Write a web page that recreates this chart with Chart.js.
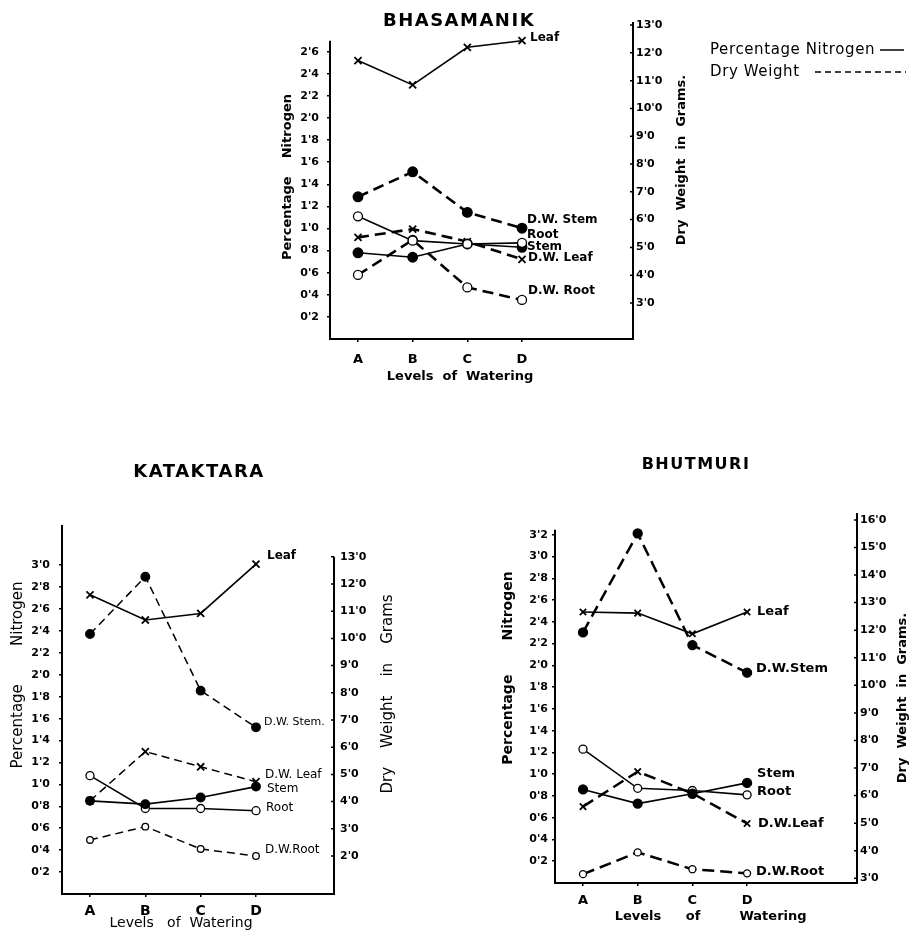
<!DOCTYPE html>
<html><head><meta charset="utf-8">
<script src="https://cdn.jsdelivr.net/npm/chart.js@4.4.0/dist/chart.umd.min.js"></script>
<style>
html,body{margin:0;padding:0;background:#fff;}
#wrap{position:relative;width:911px;height:935px;overflow:hidden;background:#fff;}
canvas{position:absolute;left:0;top:0;}
</style></head><body>
<div id="wrap">
<canvas id="c1" width="911" height="935"></canvas>
<canvas id="c2" width="911" height="935"></canvas>
<canvas id="c3" width="911" height="935"></canvas>
</div>
<script>
// ---------- DATA ----------
const categories = ['A', 'B', 'C', 'D'];

// BHASAMANIK
const bhasLeaf   = [2.52, 2.30, 2.64, 2.70];
const bhasRoot   = [1.11, 0.89, 0.86, 0.87];
const bhasStem   = [0.78, 0.74, 0.86, 0.83];
const bhasDWStem = [6.82, 7.72, 6.26, 5.69];
const bhasDWLeaf = [5.36, 5.66, 5.21, 4.57];
const bhasDWRoot = [4.01, 5.27, 3.56, 3.11];
const bhasLeftTicks  = [0.2, 0.4, 0.6, 0.8, 1.0, 1.2, 1.4, 1.6, 1.8, 2.0, 2.2, 2.4, 2.6];
const bhasRightTicks = [3, 4, 5, 6, 7, 8, 9, 10, 11, 12, 13];

// KATAKTARA
const kataLeaf   = [2.73, 2.50, 2.56, 3.01];
const kataStem   = [0.85, 0.82, 0.88, 0.98];
const kataRoot   = [1.08, 0.78, 0.78, 0.76];
const kataDWStem = [10.16, 12.27, 8.08, 6.73];
const kataDWLeaf = [4.03, 5.84, 5.28, 4.73];
const kataDWRoot = [2.59, 3.08, 2.26, 2.00];
const kataLeftTicks  = [0.2, 0.4, 0.6, 0.8, 1.0, 1.2, 1.4, 1.6, 1.8, 2.0, 2.2, 2.4, 2.6, 2.8, 3.0];
const kataRightTicks = [2, 3, 4, 5, 6, 7, 8, 9, 10, 11, 12, 13];

// BHUTMURI
const bhutLeaf   = [2.49, 2.48, 2.29, 2.49];
const bhutStem   = [0.86, 0.73, 0.82, 0.92];
const bhutRoot   = [1.23, 0.87, 0.85, 0.81];
const bhutDWStem = [11.92, 15.51, 11.46, 10.46];
const bhutDWLeaf = [5.60, 6.87, 6.08, 4.99];
const bhutDWRoot = [3.15, 3.94, 3.33, 3.18];
const bhutLeftTicks  = [0.2, 0.4, 0.6, 0.8, 1.0, 1.2, 1.4, 1.6, 1.8, 2.0, 2.2, 2.4, 2.6, 2.8, 3.0, 3.2];
const bhutRightTicks = [3, 4, 5, 6, 7, 8, 9, 10, 11, 12, 13, 14, 15, 16];

// ---------- HELPERS ----------
const FONT = '"DejaVu Sans", sans-serif';
const fmt = v => Number(v).toFixed(1).replace('.', "'");
const pts = vals => vals.map((v, i) => ({x: i, y: v}));

function series(label, vals, axis, kind, st) {
  const dashed = axis === 'yR';
  const isCross = kind === 'cross';
  return {
    label: label,
    data: pts(vals),
    yAxisID: axis,
    borderColor: '#000',
    borderWidth: dashed ? st.dashW : st.solidW,
    borderDash: dashed ? st.dash : [],
    tension: 0,
    fill: false,
    pointStyle: isCross ? 'crossRot' : 'circle',
    pointRadius: isCross ? st.crossR : (kind === 'open' ? st.openR : st.dotR),
    pointBackgroundColor: kind === 'open' ? '#fff' : '#000',
    pointBorderColor: '#000',
    pointBorderWidth: isCross ? 1.8 : 1.3
  };
}

function textPlugin(o) {
  return {
    id: 'txt' + o.id,
    afterDraw(chart) {
      const ctx = chart.ctx;
      const a = chart.chartArea;
      const yL = chart.scales.yL, yR = chart.scales.yR;
      ctx.save();
      // axis lines
      ctx.strokeStyle = '#000';
      ctx.lineWidth = 2;
      ctx.beginPath();
      ctx.moveTo(a.left, a.bottom + 1);
      ctx.lineTo(a.left, yL.getPixelForValue(o.leftTop));
      ctx.moveTo(a.right, a.bottom + 1);
      ctx.lineTo(a.right, yR.getPixelForValue(o.rightTop));
      ctx.stroke();
      // small inward tick marks on the right axis
      ctx.lineWidth = 1.5;
      ctx.beginPath();
      o.rightTicks.forEach(v => {
        const y = yR.getPixelForValue(v);
        ctx.moveTo(a.right - 3, y);
        ctx.lineTo(a.right, y);
      });
      ctx.stroke();
      ctx.fillStyle = '#000';
      // title
      ctx.font = o.titleFont;
      ctx.textAlign = 'center';
      ctx.textBaseline = 'middle';
      if ('letterSpacing' in ctx) ctx.letterSpacing = o.titleSpacing;
      ctx.fillText(o.title, o.titlePos[0], o.titlePos[1]);
      if ('letterSpacing' in ctx) ctx.letterSpacing = '0px';
      // rotated axis titles
      [[o.leftTitle, o.leftTitlePos, o.leftTitleFont], [o.rightTitle, o.rightTitlePos, o.rightTitleFont]].forEach(t => {
        ctx.save();
        ctx.translate(t[1][0], t[1][1]);
        ctx.rotate(-Math.PI / 2);
        ctx.font = t[2];
        ctx.textAlign = 'center';
        ctx.textBaseline = 'middle';
        ctx.fillText(t[0], 0, 0);
        ctx.restore();
      });
      // x title words
      ctx.font = o.xTitleFont;
      ctx.textAlign = 'center';
      o.xTitle.forEach(w => ctx.fillText(w[0], w[1], w[2]));
      // end labels
      ctx.textAlign = 'left';
      o.endLabels.forEach(l => {
        const p = chart.getDatasetMeta(l[1]).data[3];
        ctx.font = l[4] || o.endFont;
        ctx.fillText(l[0], p.x + l[2], p.y + l[3]);
      });
      if (o.legend) o.legend(ctx);
      ctx.restore();
    }
  };
}

function makeChart(id, o) {
  const tickFont = {family: FONT, size: o.tickSize, weight: 'bold'};
  return new Chart(document.getElementById(id), {
    type: 'line',
    data: {datasets: o.datasets},
    options: {
      responsive: false,
      animation: false,
      events: [],
      layout: {padding: o.padding},
      plugins: {legend: {display: false}, tooltip: {enabled: false}, title: {display: false}},
      scales: {
        x: {
          type: 'linear', min: o.xMin, max: o.xMax,
          afterBuildTicks: s => { s.ticks = categories.map((c, i) => ({value: i})); },
          afterFit: s => { s.height = 40; },
          ticks: {callback: v => categories[v], color: '#000', font: {family: FONT, size: o.xTickSize, weight: 'bold'},
                  padding: o.xTickPad, maxRotation: 0, autoSkip: false},
          grid: {drawOnChartArea: false, color: '#000', tickLength: 3, lineWidth: 1.5},
          border: {display: true, color: '#000', width: 2}
        },
        yL: {
          type: 'linear', position: 'left', min: o.lMin, max: o.lMax,
          afterBuildTicks: s => { s.ticks = o.leftTicks.map(v => ({value: v})); },
          afterFit: s => { s.width = 40; },
          ticks: {callback: fmt, color: '#000', font: tickFont, padding: o.lPad},
          grid: {drawOnChartArea: false, color: '#000', tickLength: 3, lineWidth: 1.5},
          border: {display: false}
        },
        yR: {
          type: 'linear', position: 'right', min: o.rMin, max: o.rMax,
          afterBuildTicks: s => { s.ticks = o.rightTicks.map(v => ({value: v})); },
          afterFit: s => { s.width = 40; },
          ticks: {callback: fmt, color: '#000', font: tickFont, padding: o.rPad},
          grid: {display: false, drawOnChartArea: false, drawTicks: false},
          border: {display: false}
        }
      }
    },
    plugins: [textPlugin(o)]
  });
}

// ---------- CHART 1: BHASAMANIK ----------
const st1 = {solidW: 1.6, dashW: 2.6, dash: [11, 6], crossR: 5, openR: 4.5, dotR: 4.8};
makeChart('c1', {
  id: 1,
  datasets: [
    series('Leaf', bhasLeaf, 'yL', 'cross', st1),
    series('Root', bhasRoot, 'yL', 'open', st1),
    series('Stem', bhasStem, 'yL', 'dot', st1),
    series('D.W. Stem', bhasDWStem, 'yR', 'dot', st1),
    series('D.W. Leaf', bhasDWLeaf, 'yR', 'cross', st1),
    series('D.W. Root', bhasDWRoot, 'yR', 'open', st1)
  ],
  padding: {left: 290, right: 238, top: 22, bottom: 556},
  xMin: -0.512, xMax: 5.03,
  lMin: 0, lMax: 2.869, rMin: 1.704, rMax: 13.11,
  leftTicks: bhasLeftTicks, rightTicks: bhasRightTicks,
  leftTop: 2.70, rightTop: 13.11,
  tickSize: 11, xTickSize: 13, xTickPad: 10, lPad: 8, rPad: 3,
  title: 'BHASAMANIK', titlePos: [459, 21], titleFont: 'bold 18px ' + FONT, titleSpacing: '1.5px',
  leftTitle: 'Percentage    Nitrogen', leftTitlePos: [288, 177], leftTitleFont: 'bold 13px ' + FONT,
  rightTitle: 'Dry  Weight  in  Grams.', rightTitlePos: [682, 160], rightTitleFont: 'bold 13px ' + FONT,
  xTitle: [['Levels  of  Watering', 460, 377]], xTitleFont: 'bold 13px ' + FONT,
  endFont: 'bold 12px ' + FONT,
  endLabels: [
    ['Leaf', 0, 8, -3], ['D.W. Stem', 3, 5, -8], ['Root', 1, 5, -8],
    ['Stem', 2, 5, 0], ['D.W. Leaf', 4, 6, -1], ['D.W. Root', 5, 6, -9]
  ],
  legend: ctx => {
    ctx.font = '15px ' + FONT;
    ctx.textAlign = 'left';
    ctx.textBaseline = 'middle';
    if ('letterSpacing' in ctx) ctx.letterSpacing = '0.6px';
    ctx.fillText('Percentage Nitrogen', 710, 50);
    ctx.fillText('Dry Weight', 710, 72);
    if ('letterSpacing' in ctx) ctx.letterSpacing = '0px';
    ctx.lineWidth = 1.5;
    ctx.beginPath(); ctx.moveTo(880, 50); ctx.lineTo(904, 50); ctx.stroke();
    ctx.setLineDash([6, 4]);
    ctx.beginPath(); ctx.moveTo(815, 72); ctx.lineTo(906, 72); ctx.stroke();
    ctx.setLineDash([]);
  }
});

// ---------- CHART 2: KATAKTARA ----------
const st2 = {solidW: 1.6, dashW: 1.5, dash: [8, 5], crossR: 5, openR: 4, dotR: 4.3};
makeChart('c2', {
  id: 2,
  datasets: [
    series('Leaf', kataLeaf, 'yL', 'cross', st2),
    series('Stem', kataStem, 'yL', 'dot', st2),
    series('Root', kataRoot, 'yL', 'open', st2),
    series('D.W. Stem', kataDWStem, 'yR', 'dot', st2),
    series('D.W. Leaf', kataDWLeaf, 'yR', 'cross', st2),
    series('D.W. Root', kataDWRoot, 'yR', 'open', {...st2, openR: 3.3})
  ],
  padding: {left: 22, right: 537, top: 525, bottom: 1},
  xMin: -0.506, xMax: 4.41,
  lMin: 0, lMax: 3.367, rMin: 0.603, rMax: 14.17,
  leftTicks: kataLeftTicks, rightTicks: kataRightTicks,
  leftTop: 3.367, rightTop: 13.0,
  tickSize: 11, xTickSize: 14, xTickPad: 6, lPad: 9, rPad: 6,
  title: 'KATAKTARA', titlePos: [199, 472], titleFont: 'bold 18px ' + FONT, titleSpacing: '1.5px',
  leftTitle: 'Percentage        Nitrogen', leftTitlePos: [18, 675], leftTitleFont: '15px ' + FONT,
  rightTitle: 'Dry    Weight    in    Grams', rightTitlePos: [388, 694], rightTitleFont: '15px ' + FONT,
  xTitle: [['Levels   of  Watering', 181, 923]], xTitleFont: '14px ' + FONT,
  endFont: '12px ' + FONT,
  endLabels: [
    ['Leaf', 0, 11, -8, 'bold 12px ' + FONT], ['D.W. Stem.', 3, 8, -5, '11px ' + FONT],
    ['D.W. Leaf', 4, 9, -7], ['Stem', 1, 11, 2], ['Root', 2, 10, -3], ['D.W.Root', 5, 9, -6]
  ]
});

// ---------- CHART 3: BHUTMURI ----------
const st3 = {solidW: 1.6, dashW: 2.5, dash: [12, 6], crossR: 4.5, openR: 4, dotR: 4.5};
makeChart('c3', {
  id: 3,
  datasets: [
    series('Leaf', bhutLeaf, 'yL', 'cross', st3),
    series('Stem', bhutStem, 'yL', 'dot', st3),
    series('Root', bhutRoot, 'yL', 'open', st3),
    series('D.W. Stem', bhutDWStem, 'yR', 'dot', st3),
    series('D.W. Leaf', bhutDWLeaf, 'yR', 'cross', st3),
    series('D.W. Root', bhutDWRoot, 'yR', 'open', {...st3, openR: 3.5})
  ],
  padding: {left: 515, right: 14, top: 513, bottom: 12},
  xMin: -0.512, xMax: 5.01,
  lMin: 0, lMax: 3.40, rMin: 2.83, rMax: 16.25,
  leftTicks: bhutLeftTicks, rightTicks: bhutRightTicks,
  leftTop: 3.245, rightTop: 16.25,
  tickSize: 11, xTickSize: 13, xTickPad: 7, lPad: 4, rPad: 3,
  title: 'BHUTMURI', titlePos: [696, 465], titleFont: 'bold 16px ' + FONT, titleSpacing: '1.5px',
  leftTitle: 'Percentage       Nitrogen', leftTitlePos: [508, 668], leftTitleFont: 'bold 14px ' + FONT,
  rightTitle: 'Dry  Weight  in  Grams.', rightTitlePos: [903, 698], rightTitleFont: 'bold 13px ' + FONT,
  xTitle: [['Levels', 638, 917], ['of', 693, 917], ['Watering', 773, 917]], xTitleFont: 'bold 13px ' + FONT,
  endFont: 'bold 13px ' + FONT,
  endLabels: [
    ['Leaf', 0, 10, 0], ['D.W.Stem', 3, 9, -4], ['Stem', 1, 10, -9],
    ['Root', 2, 10, -3], ['D.W.Leaf', 4, 11, 0], ['D.W.Root', 5, 9, -2]
  ]
});
</script>
</body></html>
